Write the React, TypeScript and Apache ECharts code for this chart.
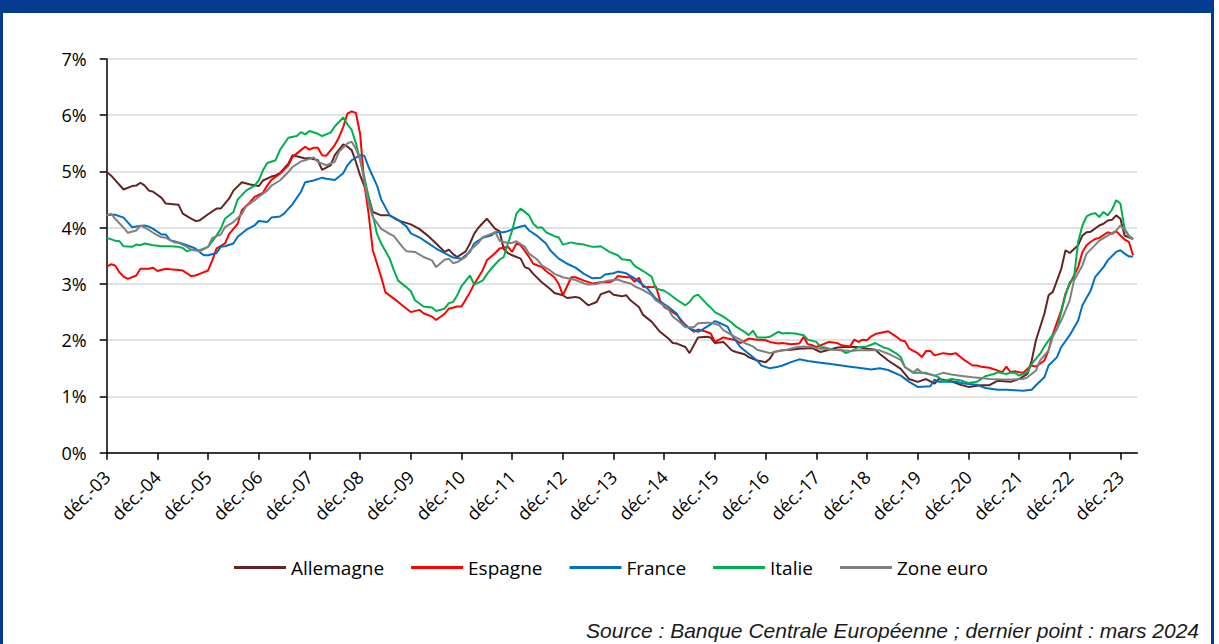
import React, { useEffect, useRef } from "react";
import * as echarts from "echarts";

// Months counted from December 2003 (0 = déc.-03), value in %.
const allemagne: [number, number][] = [
  [0, 4.99], [1, 4.93], [4, 4.68], [6, 4.74], [7, 4.75], [8, 4.8], [9, 4.75], [10, 4.66], [11, 4.64], [13, 4.53],
  [14, 4.43], [17, 4.41], [18, 4.25], [20, 4.16], [21, 4.12], [22, 4.13], [24, 4.24], [26, 4.34], [27, 4.34], [29, 4.52],
  [30, 4.66], [32, 4.81], [34, 4.77], [36, 4.74], [37, 4.84], [39, 4.91], [40, 4.93], [41, 4.97], [43, 5.14], [44, 5.29],
  [45, 5.27], [47, 5.23], [48, 5.24], [50, 5.2], [51, 5.03], [53, 5.11], [54, 5.29], [56, 5.48], [57, 5.44], [58, 5.38],
  [59, 5.17], [60, 4.93], [62, 4.55], [63, 4.28], [65, 4.22], [67, 4.22], [69, 4.13], [72, 4.06], [74, 3.98], [76, 3.86],
  [78, 3.72], [80, 3.57], [81, 3.61], [82, 3.53], [83, 3.48], [85, 3.58], [86, 3.72], [87, 3.89], [88, 4.0], [90, 4.16],
  [91, 4.07], [92, 3.98], [93, 3.94], [94, 3.62], [95, 3.55], [96, 3.51], [98, 3.45], [99, 3.3], [100, 3.27], [101, 3.18],
  [103, 3.03], [105, 2.91], [106, 2.84], [108, 2.8], [109, 2.75], [111, 2.77], [112, 2.75], [114, 2.62], [116, 2.68], [117, 2.82],
  [119, 2.87], [120, 2.81], [122, 2.78], [123, 2.8], [124, 2.71], [126, 2.59], [127, 2.45], [129, 2.33], [131, 2.15], [133, 2.03],
  [134, 1.95], [135, 1.94], [137, 1.88], [138, 1.77], [139, 1.91], [140, 2.05], [142, 2.06], [143, 2.05], [144, 1.95], [146, 1.97],
  [148, 1.82], [149, 1.79], [151, 1.75], [152, 1.7], [154, 1.64], [156, 1.61], [157, 1.67], [158, 1.79], [160, 1.82], [162, 1.83],
  [164, 1.85], [167, 1.86], [169, 1.79], [171, 1.83], [173, 1.87], [175, 1.88], [178, 1.88], [180, 1.85], [182, 1.83], [183, 1.76],
  [185, 1.64], [188, 1.49], [190, 1.31], [192, 1.26], [194, 1.31], [196, 1.23], [197, 1.31], [200, 1.27], [202, 1.21], [204, 1.17],
  [207, 1.2], [209, 1.2], [211, 1.28], [214, 1.26], [216, 1.31], [218, 1.4], [219, 1.64], [220, 2.0], [222, 2.47], [223, 2.8],
  [224, 2.86], [226, 3.27], [227, 3.6], [228, 3.55], [230, 3.69], [231, 3.86], [232, 3.92], [233, 3.93], [235, 4.04], [236, 4.07],
  [237, 4.13], [238, 4.14], [239, 4.22], [240, 4.16], [241, 3.86], [243, 3.8],
];

const espagne: [number, number][] = [
  [0, 3.31], [1, 3.35], [2, 3.33], [3, 3.21], [4, 3.13], [5, 3.09], [7, 3.15], [8, 3.27], [10, 3.27], [11, 3.29],
  [12, 3.23], [14, 3.27], [15, 3.26], [17, 3.25], [18, 3.24], [20, 3.14], [21, 3.15], [22, 3.18], [24, 3.24], [25, 3.42],
  [26, 3.63], [28, 3.72], [29, 3.89], [31, 4.07], [32, 4.31], [34, 4.46], [35, 4.55], [37, 4.62], [38, 4.75], [39, 4.85],
  [41, 4.96], [43, 5.11], [44, 5.26], [46, 5.38], [47, 5.44], [48, 5.39], [49, 5.42], [50, 5.42], [51, 5.29], [52, 5.28],
  [54, 5.47], [55, 5.61], [56, 5.79], [57, 6.03], [58, 6.07], [59, 6.04], [60, 5.67], [61, 4.78], [62, 4.25], [63, 3.6],
  [65, 3.12], [66, 2.85], [68, 2.74], [69, 2.68], [71, 2.56], [72, 2.5], [74, 2.54], [75, 2.48], [77, 2.42], [78, 2.36],
  [80, 2.47], [81, 2.56], [83, 2.6], [84, 2.6], [86, 2.85], [87, 3.0], [89, 3.24], [90, 3.42], [92, 3.55], [93, 3.63],
  [95, 3.66], [96, 3.57], [97, 3.72], [98, 3.69], [100, 3.48], [101, 3.36], [103, 3.3], [104, 3.23], [106, 3.12], [107, 3.0],
  [108, 2.8], [110, 3.12], [111, 3.12], [113, 3.06], [115, 3.01], [117, 3.03], [119, 3.03], [120, 3.06], [121, 3.14], [123, 3.12],
  [124, 3.12], [125, 3.04], [126, 3.11], [127, 2.95], [129, 2.94], [130, 2.96], [131, 2.71], [132, 2.59], [134, 2.5], [135, 2.45],
  [137, 2.27], [139, 2.15], [140, 2.19], [142, 2.15], [143, 2.12], [144, 1.97], [146, 2.05], [147, 2.03], [149, 2.0], [150, 1.95],
  [152, 2.03], [154, 2.01], [156, 2.0], [157, 1.97], [159, 1.94], [160, 1.95], [162, 1.93], [164, 1.94], [165, 2.06], [166, 1.93],
  [167, 1.91], [168, 1.88], [170, 1.94], [171, 1.97], [173, 1.95], [174, 1.91], [176, 1.89], [177, 2.01], [178, 1.97], [179, 2.01],
  [180, 2.0], [181, 2.07], [182, 2.11], [183, 2.13], [185, 2.16], [187, 2.06], [188, 2.0], [189, 1.98], [190, 1.85], [192, 1.77],
  [193, 1.7], [194, 1.81], [195, 1.81], [196, 1.73], [198, 1.77], [200, 1.75], [201, 1.77], [202, 1.71], [203, 1.65], [205, 1.55],
  [206, 1.55], [207, 1.53], [209, 1.51], [211, 1.46], [212, 1.43], [213, 1.53], [214, 1.43], [215, 1.45], [216, 1.43], [217, 1.42],
  [218, 1.49], [219, 1.55], [220, 1.53], [222, 1.64], [223, 1.82], [224, 2.11], [226, 2.53], [227, 2.83], [228, 3.0], [230, 3.3],
  [231, 3.57], [232, 3.69], [233, 3.75], [234, 3.8], [235, 3.82], [237, 3.92], [238, 3.89], [239, 3.94], [240, 3.86], [241, 3.79],
  [242, 3.75], [243, 3.51],
];

const france: [number, number][] = [
  [0, 4.22], [1, 4.23], [2, 4.23], [4, 4.18], [6, 4.01], [7, 4.02], [9, 4.04], [10, 4.02], [11, 3.98], [13, 3.88],
  [14, 3.88], [15, 3.78], [17, 3.74], [19, 3.69], [21, 3.63], [22, 3.57], [23, 3.51], [24, 3.51], [26, 3.55], [27, 3.66],
  [28, 3.67], [30, 3.72], [31, 3.84], [33, 3.96], [35, 4.04], [36, 4.12], [38, 4.1], [39, 4.18], [41, 4.2], [42, 4.25],
  [44, 4.42], [46, 4.64], [47, 4.81], [49, 4.84], [51, 4.89], [52, 4.87], [54, 4.85], [56, 4.97], [57, 5.11], [58, 5.2],
  [60, 5.29], [61, 5.28], [62, 5.08], [64, 4.75], [65, 4.5], [67, 4.22], [69, 4.14], [71, 4.02], [72, 3.9], [74, 3.83],
  [76, 3.73], [78, 3.63], [80, 3.55], [82, 3.47], [84, 3.45], [86, 3.57], [87, 3.72], [89, 3.82], [91, 3.86], [92, 3.92],
  [94, 3.92], [95, 3.94], [97, 4.0], [99, 4.04], [100, 3.95], [102, 3.85], [104, 3.72], [105, 3.6], [107, 3.45], [109, 3.36],
  [111, 3.29], [113, 3.18], [115, 3.1], [117, 3.11], [118, 3.17], [120, 3.19], [121, 3.22], [123, 3.19], [125, 3.1], [128, 2.92],
  [130, 2.74], [133, 2.59], [135, 2.47], [136, 2.33], [138, 2.21], [140, 2.15], [141, 2.19], [143, 2.28], [144, 2.34], [145, 2.31],
  [147, 2.24], [148, 2.09], [150, 1.88], [152, 1.76], [154, 1.64], [155, 1.55], [157, 1.5], [159, 1.53], [160, 1.55], [162, 1.61],
  [164, 1.66], [166, 1.63], [169, 1.6], [171, 1.58], [174, 1.55], [176, 1.53], [178, 1.51], [181, 1.48], [183, 1.5], [185, 1.47],
  [188, 1.37], [190, 1.26], [192, 1.17], [195, 1.18], [196, 1.3], [197, 1.26], [199, 1.26], [201, 1.26], [203, 1.23], [206, 1.21],
  [208, 1.15], [211, 1.12], [213, 1.12], [215, 1.11], [217, 1.1], [219, 1.12], [220, 1.2], [222, 1.34], [223, 1.55], [225, 1.7],
  [226, 1.88], [228, 2.09], [230, 2.35], [231, 2.62], [233, 2.89], [234, 3.12], [236, 3.3], [237, 3.42], [239, 3.57], [240, 3.6],
  [241, 3.54], [242, 3.49], [243, 3.49],
];

const italie: [number, number][] = [
  [0, 3.82], [2, 3.77], [3, 3.76], [4, 3.67], [6, 3.66], [7, 3.7], [8, 3.69], [9, 3.72], [11, 3.69], [13, 3.67],
  [15, 3.67], [17, 3.66], [18, 3.64], [19, 3.58], [20, 3.61], [22, 3.6], [24, 3.66], [26, 3.86], [27, 3.98], [28, 4.16],
  [30, 4.28], [31, 4.5], [33, 4.66], [35, 4.75], [36, 4.84], [37, 5.02], [38, 5.15], [40, 5.2], [41, 5.38], [43, 5.6],
  [45, 5.63], [46, 5.7], [47, 5.66], [48, 5.72], [50, 5.67], [51, 5.63], [53, 5.69], [54, 5.8], [56, 5.96], [57, 5.84],
  [58, 5.74], [59, 5.5], [60, 5.2], [61, 4.9], [62, 4.55], [63, 4.22], [64, 3.89], [65, 3.72], [67, 3.45], [68, 3.24],
  [69, 3.06], [71, 2.94], [72, 2.87], [73, 2.71], [75, 2.6], [77, 2.58], [78, 2.52], [80, 2.56], [81, 2.66], [82, 2.68],
  [83, 2.8], [84, 2.96], [86, 3.15], [87, 2.99], [89, 3.06], [90, 3.17], [91, 3.27], [93, 3.43], [94, 3.48], [95, 3.72],
  [96, 3.95], [97, 4.25], [98, 4.34], [100, 4.22], [101, 4.07], [102, 4.0], [103, 4.01], [104, 3.92], [106, 3.85], [107, 3.83],
  [108, 3.7], [110, 3.74], [111, 3.72], [113, 3.7], [115, 3.66], [116, 3.66], [117, 3.67], [119, 3.57], [121, 3.51], [122, 3.44],
  [124, 3.42], [125, 3.32], [127, 3.23], [129, 3.13], [130, 2.92], [132, 2.88], [133, 2.83], [135, 2.72], [137, 2.62], [138, 2.68],
  [139, 2.78], [140, 2.81], [142, 2.65], [143, 2.58], [144, 2.5], [146, 2.42], [148, 2.31], [149, 2.24], [151, 2.15], [152, 2.09],
  [153, 2.17], [154, 2.05], [156, 2.05], [157, 2.06], [159, 2.15], [160, 2.12], [161, 2.13], [163, 2.12], [165, 2.09], [166, 2.01],
  [168, 1.97], [169, 1.88], [170, 1.87], [172, 1.83], [174, 1.82], [175, 1.77], [177, 1.83], [178, 1.88], [180, 1.89], [181, 1.92],
  [182, 1.95], [184, 1.87], [185, 1.85], [187, 1.76], [188, 1.7], [189, 1.52], [191, 1.42], [192, 1.42], [194, 1.42], [196, 1.37],
  [197, 1.34], [198, 1.27], [200, 1.31], [202, 1.29], [204, 1.24], [206, 1.26], [208, 1.36], [210, 1.4], [211, 1.43], [213, 1.4],
  [214, 1.42], [215, 1.42], [216, 1.37], [218, 1.43], [219, 1.58], [221, 1.76], [222, 1.89], [224, 2.1], [225, 2.2], [226, 2.5],
  [227, 2.8], [228, 3.03], [229, 3.1], [230, 3.75], [231, 4.04], [232, 4.2], [233, 4.24], [234, 4.26], [235, 4.19], [236, 4.28],
  [237, 4.22], [238, 4.32], [239, 4.49], [240, 4.43], [241, 3.98], [242, 3.86], [243, 3.8],
];

const zoneEuro: [number, number][] = [
  [0, 4.22], [1, 4.25], [2, 4.16], [4, 4.0], [5, 3.91], [7, 3.95], [8, 4.04], [10, 3.96], [11, 3.91], [13, 3.83],
  [14, 3.82], [16, 3.74], [17, 3.73], [19, 3.66], [20, 3.61], [22, 3.58], [24, 3.66], [25, 3.82], [27, 3.88], [28, 4.01],
  [30, 4.1], [32, 4.25], [33, 4.38], [35, 4.49], [36, 4.55], [38, 4.66], [39, 4.75], [41, 4.84], [43, 4.99], [44, 5.08],
  [46, 5.18], [47, 5.2], [49, 5.25], [50, 5.17], [52, 5.11], [54, 5.17], [55, 5.35], [57, 5.5], [58, 5.53], [59, 5.4],
  [60, 5.22], [61, 4.83], [62, 4.43], [63, 4.19], [65, 3.98], [67, 3.89], [68, 3.85], [70, 3.66], [71, 3.58], [73, 3.57],
  [75, 3.48], [77, 3.42], [78, 3.3], [80, 3.43], [81, 3.45], [82, 3.37], [83, 3.39], [85, 3.48], [86, 3.6], [88, 3.73],
  [89, 3.83], [91, 3.89], [92, 3.92], [93, 3.77], [95, 3.73], [96, 3.73], [97, 3.76], [99, 3.66], [100, 3.54], [102, 3.43],
  [103, 3.33], [105, 3.24], [106, 3.18], [108, 3.12], [110, 3.09], [111, 3.07], [113, 3.01], [114, 2.99], [116, 3.0], [117, 3.03],
  [119, 3.06], [121, 3.08], [122, 3.05], [124, 3.01], [125, 2.96], [127, 2.89], [129, 2.8], [130, 2.71], [132, 2.61], [133, 2.55],
  [134, 2.42], [136, 2.3], [137, 2.23], [139, 2.23], [140, 2.3], [142, 2.31], [143, 2.31], [145, 2.27], [146, 2.18], [148, 2.09],
  [150, 2.01], [151, 1.95], [153, 1.89], [154, 1.83], [156, 1.79], [157, 1.77], [159, 1.81], [161, 1.83], [163, 1.87], [165, 1.89],
  [167, 1.88], [169, 1.85], [170, 1.85], [172, 1.83], [174, 1.82], [176, 1.81], [178, 1.82], [180, 1.82], [183, 1.82], [185, 1.76],
  [188, 1.65], [189, 1.52], [191, 1.43], [192, 1.49], [193, 1.42], [196, 1.37], [198, 1.42], [200, 1.39], [202, 1.37], [205, 1.34],
  [207, 1.33], [209, 1.31], [212, 1.3], [214, 1.3], [217, 1.31], [218, 1.34], [220, 1.46], [221, 1.64], [223, 1.82], [224, 2.06],
  [226, 2.35], [228, 2.71], [229, 3.06], [231, 3.33], [232, 3.54], [234, 3.69], [235, 3.77], [237, 3.86], [239, 3.95], [240, 4.04],
  [241, 3.96], [242, 3.85], [243, 3.79],
];

const seriesNames = ["Allemagne", "Espagne", "France", "Italie", "Zone euro"];
const seriesColors = ["#632523", "#FF0000", "#0070C0", "#00B050", "#808080"];
const seriesData = [allemagne, espagne, france, italie, zoneEuro];

// December tick positions (months from déc.-03) and their labels
const tickMonths = [0, 12, 24, 36, 48, 60, 72, 84, 96, 108, 120, 132, 144, 156, 168, 180, 192, 204, 216, 228, 240];
const tickLabels = [
  "déc.-03", "déc.-04", "déc.-05", "déc.-06", "déc.-07", "déc.-08", "déc.-09", "déc.-10", "déc.-11", "déc.-12",
  "déc.-13", "déc.-14", "déc.-15", "déc.-16", "déc.-17", "déc.-18", "déc.-19", "déc.-20", "déc.-21", "déc.-22", "déc.-23",
];

const sourceNote = "Source : Banque Centrale Européenne ; dernier point : mars 2024";

const FONT = "'Open Sans', sans-serif";
const FRAME_BLUE = "#023B8F";

export default function App() {
  const ref = useRef<HTMLDivElement>(null);

  useEffect(() => {
    if (!ref.current) return;
    const chart = echarts.init(ref.current, null, { renderer: "svg" });
    chart.setOption({
      animation: false,
      backgroundColor: "#ffffff",
      textStyle: { fontFamily: FONT },
      grid: { left: 106.7, right: 81.7, top: 59, bottom: 191.3, containLabel: false },
      xAxis: {
        type: "value",
        min: 0,
        max: 244,
        axisLine: { show: true, onZero: false, lineStyle: { color: "#000", width: 1.5 } },
        axisTick: {
          show: true,
          inside: false,
          length: 7,
          customValues: tickMonths,
          lineStyle: { color: "#000", width: 1.5 },
        },
        axisLabel: {
          customValues: tickMonths,
          rotate: 45,
          margin: 21,
          color: "#000",
          fontSize: 18,
          fontFamily: FONT,
          formatter: (v: number) => {
            const i = tickMonths.indexOf(Math.round(v));
            return i >= 0 ? tickLabels[i] : "";
          },
        },
        splitLine: { show: false },
      },
      yAxis: {
        type: "value",
        min: 0,
        max: 7,
        interval: 1,
        axisLine: { show: true, lineStyle: { color: "#000", width: 1.5 } },
        axisTick: { show: true, inside: false, length: 7, lineStyle: { color: "#000", width: 1.5 } },
        axisLabel: {
          formatter: "{value}%",
          margin: 20,
          color: "#000",
          fontSize: 18,
          fontFamily: FONT,
        },
        splitLine: { show: true, lineStyle: { color: "#D9D9D9", width: 1.5 } },
      },
      legend: {
        data: seriesNames,
        left: 234,
        top: 558,
        padding: 0,
        icon: "rect",
        itemWidth: 52,
        itemHeight: 3,
        itemGap: 27,
        textStyle: { color: "#000", fontSize: 19, fontFamily: FONT },
      },
      series: seriesNames.map((name, i) => ({
        name,
        type: "line",
        data: seriesData[i],
        showSymbol: false,
        symbol: "none",
        color: seriesColors[i],
        lineStyle: { color: seriesColors[i], width: 2 },
        z: 2 + i,
      })),
      graphic: [
        { type: "rect", shape: { x: 0, y: 0, width: 1214, height: 13 }, style: { fill: FRAME_BLUE }, silent: true },
        { type: "rect", shape: { x: 0, y: 0, width: 3, height: 644 }, style: { fill: FRAME_BLUE }, silent: true },
        { type: "rect", shape: { x: 1211, y: 0, width: 3, height: 644 }, style: { fill: FRAME_BLUE }, silent: true },
        {
          type: "text",
          x: 1199,
          y: 630,
          style: {
            text: sourceNote,
            align: "right",
            verticalAlign: "middle",
            fill: "#1a1a1a",
            font: "italic 21px 'Liberation Sans', Arial, sans-serif",
          },
          silent: true,
        },
      ],
    });
    return () => chart.dispose();
  }, []);

  return (
    <div
      ref={ref}
      style={{ position: "absolute", left: 0, top: 0, width: 1219, height: 644 }}
    />
  );
}
